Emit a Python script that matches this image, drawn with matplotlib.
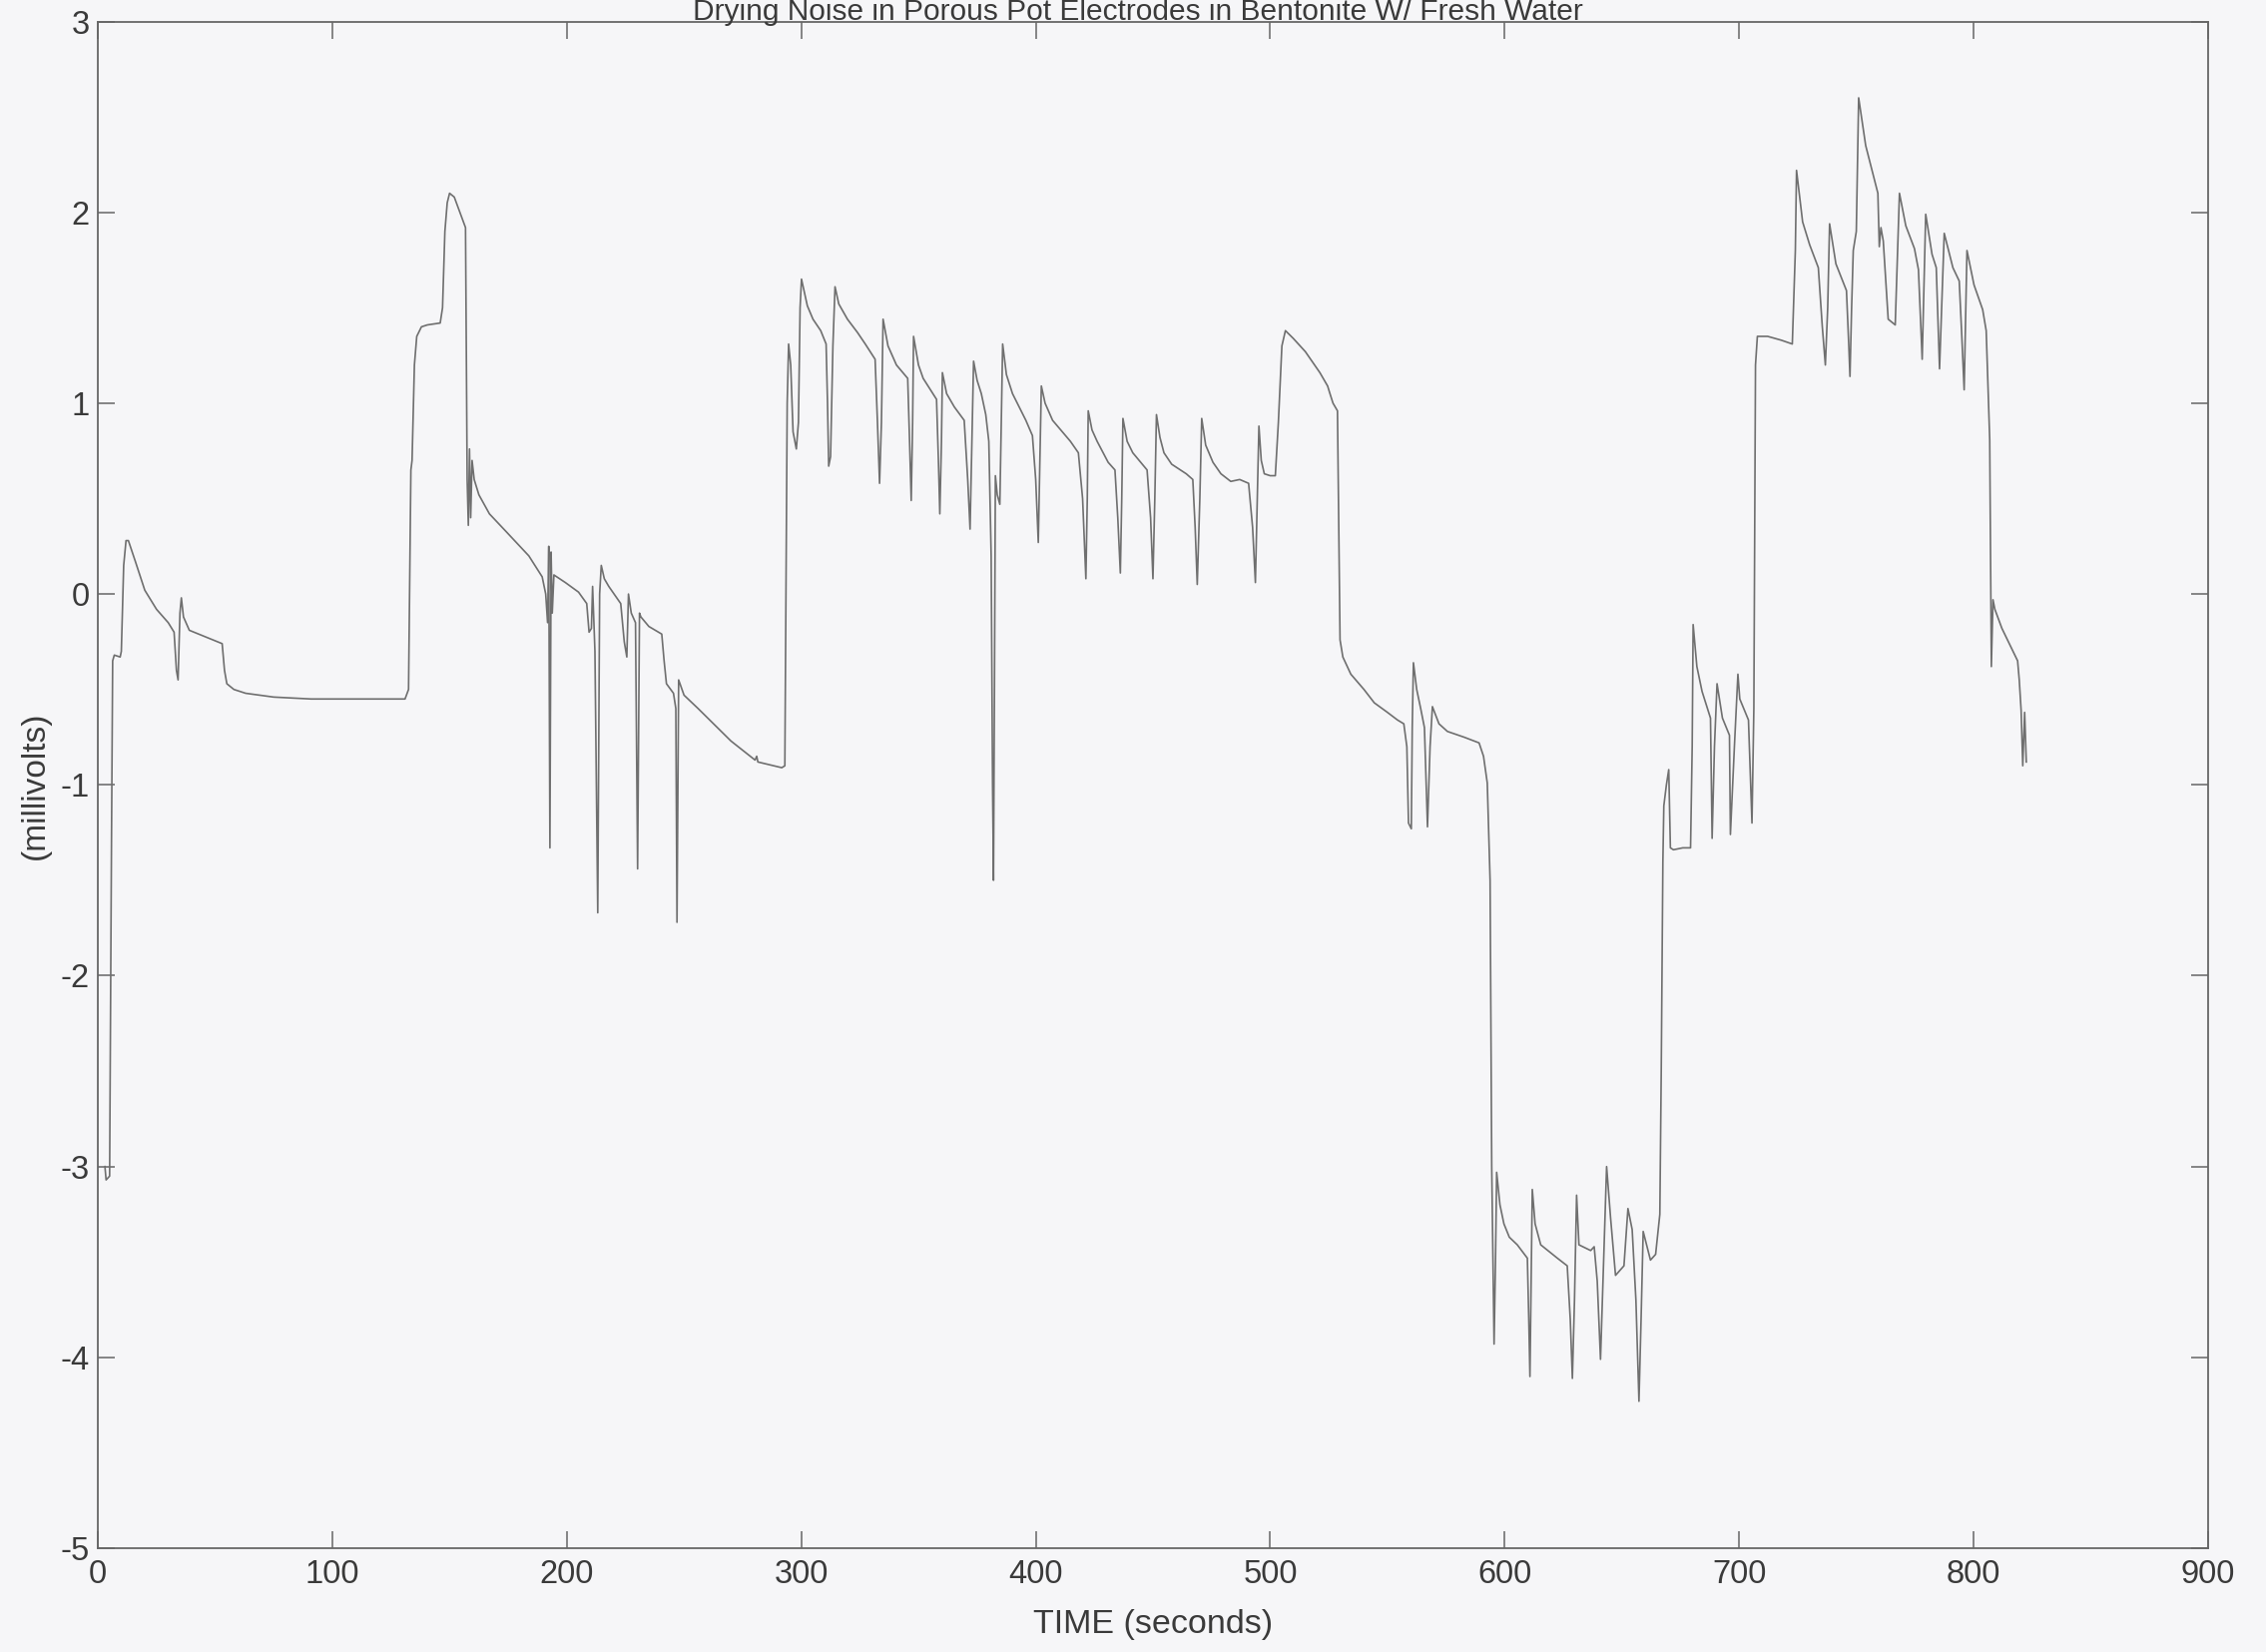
import matplotlib
matplotlib.use("Agg")
import matplotlib.pyplot as plt

plt.rcParams['font.family'] = ['Liberation Sans', 'DejaVu Sans']
plt.rcParams['axes.unicode_minus'] = False

title = "Drying Noise in Porous Pot Electrodes in Bentonite W/ Fresh Water"
x_label = "TIME (seconds)"
y_label = "(millivolts)"
x_ticks = [0, 100, 200, 300, 400, 500, 600, 700, 800, 900]
y_ticks = [-5, -4, -3, -2, -1, 0, 1, 2, 3]

# segment 1: 0 - 293 s
time_a = [3.0, 3.5, 5.0, 5.8, 6.3, 7.0, 9.5, 10.0, 11.0, 12.0, 13.0, 16, 20, 25, 30, 32.5, 33.5, 34.2,
          35.0, 35.6, 36.5, 39, 45, 53, 54, 55, 58, 63, 75, 91, 131, 132.5, 133.5, 134, 135, 136, 138,
          140.5, 146, 147, 148, 149, 150, 152, 156.8, 157.2, 157.5, 158, 158.5, 159, 159.6, 160.5,
          162.5, 167, 173.9, 183.8, 189.5, 191, 191.8, 192.3, 192.8, 193.3, 193.8, 194.5, 199.4, 205,
          208.5, 209.5, 210.5, 211, 212, 213.2, 214, 214.7, 216, 217.9, 223, 224.5, 225.6, 226.3,
          227.5, 229.3, 230.2, 231, 231.6, 235, 240.5, 241.5, 242.5, 245.5, 246.5, 247, 247.7, 250,
          256, 270, 280.3, 281, 281.5, 291.7, 293]
mv_a = [-3.0, -3.07, -3.05, -1.3, -0.35, -0.32, -0.33, -0.30, 0.15, 0.28, 0.28, 0.17, 0.02, -0.08,
        -0.15, -0.2, -0.4, -0.45, -0.1, -0.02, -0.12, -0.19, -0.22, -0.26, -0.4, -0.47, -0.5, -0.52,
        -0.54, -0.55, -0.55, -0.5, 0.65, 0.7, 1.2, 1.35, 1.4, 1.41, 1.42, 1.5, 1.9, 2.05, 2.1, 2.08,
        1.92, 1.2, 0.6, 0.36, 0.76, 0.4, 0.7, 0.6, 0.52, 0.42, 0.33, 0.2, 0.09, 0.0, -0.15, 0.25,
        -1.33, 0.22, -0.1, 0.1, 0.06, 0.01, -0.05, -0.2, -0.18, 0.04, -0.3, -1.67, 0.0, 0.15, 0.08,
        0.04, -0.05, -0.25, -0.33, 0.0, -0.1, -0.15, -1.44, -0.1, -0.12, -0.17, -0.21, -0.35, -0.47,
        -0.52, -0.6, -1.72, -0.45, -0.53, -0.6, -0.77, -0.87, -0.85, -0.88, -0.91, -0.9]

# segment 2: 294 - 593 s
time_b = [294.0, 294.6, 295.5, 296.5, 297.9, 298.8, 299.5, 300.1, 302.6, 305, 308.3, 310.6, 311.2,
          311.7, 312.5, 313.5, 314.4, 316, 319.7, 324, 327.3, 331.5, 332.5, 333.4, 334.2, 334.9, 337,
          340.6, 345.4, 346.2, 346.9, 347.5, 347.9, 350, 352, 357.7, 358.5, 359.1, 359.8, 360.2, 362,
          365.3, 369.5, 371, 372, 372.8, 373.5, 375, 376.8, 378.7, 380, 381, 381.6, 382.0, 382.4,
          382.8, 383.6, 384.7, 385.3, 385.9, 387.5, 390.1, 395.8, 398.6, 400, 401.1, 401.8, 402.4,
          404, 407.2, 414.8, 418.2, 420, 421.4, 422, 422.4, 424, 426.2, 430.9, 433.8, 435, 436.1,
          436.7, 437.2, 439, 441.4, 447.5, 449, 450.0, 450.8, 451.5, 453, 454.7, 458, 464.2, 467.0,
          468, 468.9, 470, 470.8, 472.5, 475.6, 479, 483.2, 487, 490.8, 492.5, 493.7, 494.5, 495.2,
          496.2, 497.5, 500, 502.2, 503.5, 505, 506.5, 509.8, 515, 521.2, 524.5, 525.5, 526.8, 528.7,
          529.3, 529.8, 531, 534.4, 540, 544.4, 550, 554.3, 557, 558.3, 559, 560.2, 560.6, 561.1,
          562.5, 564.2, 565.8, 567.1, 568.2, 569.2, 572, 575.6, 582.7, 589.1, 591, 592.6]
mv_b = [1.0, 1.31, 1.2, 0.85, 0.76, 0.9, 1.5, 1.65, 1.51, 1.44, 1.38, 1.31, 1.0, 0.67, 0.72, 1.3,
        1.61, 1.52, 1.44, 1.37, 1.31, 1.23, 0.9, 0.58, 0.9, 1.44, 1.3, 1.20, 1.13, 0.8, 0.49, 0.9,
        1.35, 1.2, 1.13, 1.02, 0.7, 0.42, 0.8, 1.16, 1.05, 0.98, 0.91, 0.6, 0.34, 0.8, 1.22, 1.12,
        1.05, 0.94, 0.8, 0.2, -1.0, -1.5, -0.5, 0.62, 0.52, 0.47, 0.9, 1.31, 1.15, 1.05, 0.91, 0.83,
        0.6, 0.27, 0.7, 1.09, 1.0, 0.91, 0.80, 0.74, 0.5, 0.08, 0.5, 0.96, 0.86, 0.80, 0.69, 0.65,
        0.4, 0.11, 0.5, 0.92, 0.8, 0.74, 0.65, 0.4, 0.08, 0.5, 0.94, 0.82, 0.74, 0.68, 0.63, 0.60,
        0.35, 0.05, 0.5, 0.92, 0.78, 0.69, 0.63, 0.59, 0.60, 0.58, 0.35, 0.06, 0.5, 0.88, 0.7, 0.63,
        0.62, 0.62, 0.9, 1.3, 1.38, 1.34, 1.27, 1.16, 1.09, 1.05, 1.0, 0.96, 0.3, -0.24, -0.33,
        -0.42, -0.5, -0.57, -0.62, -0.66, -0.68, -0.8, -1.2, -1.23, -0.7, -0.36, -0.5, -0.6, -0.7,
        -1.22, -0.8, -0.59, -0.68, -0.72, -0.75, -0.78, -0.85, -0.99]

# segment 3: 593 - 823 s
time_c = [593.8, 594.5, 595.5, 596.1, 596.6, 598, 599.7, 602, 605.4, 609.7, 610.3, 610.8, 611.3,
          611.8, 613, 615.4, 622.5, 626.7, 628, 628.9, 629.8, 630.7, 631.7, 636.7, 638.2, 639.5,
          640.9, 642.2, 643.5, 645.2, 647.3, 650.9, 652.6, 654.4, 656, 657.3, 658.2, 659.1, 662.2,
          664.4, 666.2, 666.8, 667.5, 667.9, 669, 670.0, 670.7, 672, 676, 679.3, 680.0, 680.4, 682,
          684.2, 687.8, 688.2, 688.5, 689.5, 690.6, 692.9, 695.9, 696.3, 698, 699.5, 700.3, 704,
          705.5, 706.3, 707.0, 707.8, 712.2, 718, 722.7, 724.0, 724.5, 727.1, 730.1, 733.8, 735.5,
          736.8, 737.8, 738.6, 741.3, 745.8, 746.8, 747.3, 748.0, 748.7, 750, 751, 754, 759.2,
          759.8, 760.5, 761.5, 763.6, 766.6, 768.4, 771.1, 774.8, 776.5, 778.1, 779.6, 782.3,
          784.1, 785.5, 787.5, 791.2, 793.9, 795, 796, 797.2, 800.2, 803.9, 805.4, 806.9, 807.6,
          808.3, 809.1, 812.1, 818.8, 819.5, 820.3, 821, 821.8, 822.5]
mv_c = [-1.5, -3.0, -3.93, -3.5, -3.03, -3.2, -3.30, -3.37, -3.41, -3.48, -3.8, -4.1, -3.6, -3.12,
        -3.3, -3.41, -3.48, -3.52, -3.8, -4.11, -3.7, -3.15, -3.41, -3.44, -3.42, -3.6, -4.01, -3.5,
        -3.0, -3.27, -3.57, -3.52, -3.22, -3.33, -3.7, -4.23, -3.8, -3.34, -3.49, -3.46, -3.25,
        -2.5, -1.4, -1.11, -1.0, -0.92, -1.33, -1.34, -1.33, -1.33, -0.8, -0.16, -0.38, -0.51,
        -0.65, -1.0, -1.28, -0.8, -0.47, -0.65, -0.74, -1.26, -0.8, -0.42, -0.55, -0.66, -1.2,
        -0.6, 1.2, 1.35, 1.35, 1.33, 1.31, 1.8, 2.22, 1.95, 1.83, 1.71, 1.4, 1.2, 1.5, 1.94, 1.73,
        1.59, 1.3, 1.14, 1.5, 1.8, 1.9, 2.6, 2.35, 2.10, 1.82, 1.92, 1.85, 1.44, 1.41, 2.10, 1.93,
        1.81, 1.7, 1.23, 1.99, 1.78, 1.71, 1.18, 1.89, 1.71, 1.64, 1.35, 1.07, 1.80, 1.62, 1.49,
        1.38, 0.81, -0.38, -0.03, -0.08, -0.18, -0.35, -0.45, -0.61, -0.9, -0.62, -0.88]

bg = '#f6f6f8'
fig = plt.figure(figsize=(22.70, 16.55), dpi=100, facecolor=bg)
ax = fig.add_axes([0.0432, 0.0628, 0.9312, 0.9242], facecolor=bg)

ax.plot(time_a + time_b + time_c, mv_a + mv_b + mv_c, color='#6f6f6f', linewidth=1.2)

ax.set_xlim(0, 900)
ax.set_ylim(-5, 3)
ax.set_xticks(x_ticks)
ax.set_yticks(y_ticks)
ax.set_xticklabels([str(v) for v in x_ticks])
ax.set_yticklabels([str(v) for v in y_ticks])
ax.tick_params(direction='in', length=12, width=1.1, color='#666666', top=True, right=True,
               labelsize=23.5, labelcolor='#3a3a3a')
ax.tick_params(axis='x', pad=8)
ax.tick_params(axis='y', pad=6)
for s in ax.spines.values():
    s.set_color('#666666')
    s.set_linewidth(1.3)

ax.set_xlabel(x_label, fontsize=24.5, color='#3a3a3a')
ax.xaxis.set_label_coords(0.5, -0.0497)
ax.xaxis.label.set_va('center')
ax.set_ylabel(y_label, fontsize=24, color='#3a3a3a')
ax.yaxis.set_label_coords(-0.0298, 0.5)
ax.yaxis.label.set_va('center')

fig.text(0.502, 1 - 20 / 1655, title, ha='center', va='baseline', fontsize=21.5, color='#3a3a3a')

fig.savefig('out.png', dpi=100, facecolor=bg)
